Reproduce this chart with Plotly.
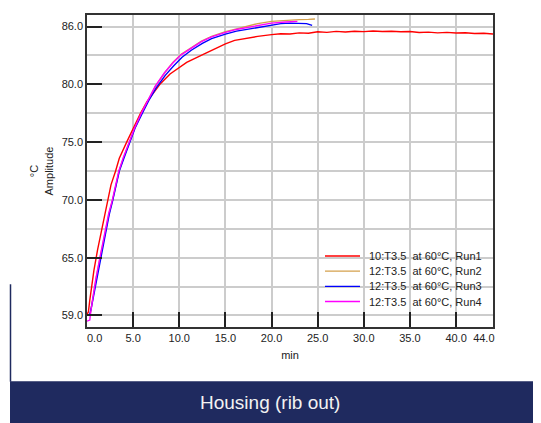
import plotly.graph_objects as go

# ---------------- data ----------------
series_names = [
    "10:T3.5\u00a0\u00a0at 60\u00b0C, Run1",
    "12:T3.5\u00a0\u00a0at 60\u00b0C, Run2",
    "12:T3.5\u00a0\u00a0at 60\u00b0C, Run3",
    "12:T3.5\u00a0\u00a0at 60\u00b0C, Run4",
]
series_colors = ["#ff0000", "#d4a04c", "#0000ff", "#ff00ff"]

run1_t = [0.0, 0.15, 0.3, 0.5, 0.75, 1.15, 1.6, 2.2, 2.6, 3.1, 3.4, 3.5, 4.3, 5.0, 5.8,
          6.5, 7.2, 7.9, 9.0, 10.8, 12.6, 14.4, 15.0, 16.0, 17.3, 18.5, 20, 21, 22, 23, 24,
          25, 26, 27, 28, 29, 30, 31, 32, 33, 34, 35, 36, 37, 38, 39, 40, 41, 42, 43, 44]
run1_v = [60.1, 60.3, 61.3, 62.7, 63.9, 65.7, 67.5, 70.0, 71.3, 72.5, 73.2, 73.6, 75.0, 76.2, 77.5,
          78.5, 79.3, 80.0, 80.9, 81.9, 82.6, 83.3, 83.5, 83.8, 84.0, 84.15, 84.30, 84.38, 84.36, 84.45, 84.42,
          84.55, 84.50, 84.58, 84.53, 84.60, 84.56, 84.62, 84.57, 84.60, 84.55, 84.57, 84.48, 84.52, 84.45, 84.50,
          84.44, 84.47, 84.40, 84.42, 84.35]

run2_t = [0.0, 0.35, 0.45, 0.7, 1.0, 1.42, 1.68, 2.03, 2.38, 2.78, 3.48, 3.98, 4.58, 5.18, 5.98,
          6.68, 7.42, 8.42, 9.3, 10.2, 11.3, 12.4, 13.5, 15.0, 16.2, 17.3, 18.5, 20.0, 21.0, 22.0,
          23.0, 24.0, 24.7]
run2_v = [60.0, 60.1, 60.6, 61.9, 63.3, 65.0, 66.0, 67.5, 68.8, 70.0, 72.5, 73.7, 75.0, 76.2, 77.6,
          78.7, 79.85, 81.0, 81.9, 82.6, 83.2, 83.75, 84.15, 84.55, 84.8, 85.0, 85.25, 85.45, 85.5, 85.6,
          85.6, 85.62, 85.65]

run3_t = [0.0, 0.3, 0.45, 0.72, 1.0, 1.45, 1.7, 2.06, 2.4, 2.8, 3.5, 4.0, 4.6, 5.2, 6.0,
          6.7, 7.5, 8.5, 9.4, 10.3, 11.3, 12.5, 13.5, 15.0, 16.2, 17.3, 19.0, 20.0, 21.0, 22.0,
          23.0, 23.8, 24.4]
run3_v = [60.0, 60.1, 60.6, 61.7, 63.0, 65.0, 65.9, 67.5, 68.7, 70.0, 72.5, 73.6, 75.0, 76.2, 77.5,
          78.6, 79.7, 80.8, 81.6, 82.35, 82.95, 83.55, 83.95, 84.35, 84.6, 84.75, 85.0, 85.15, 85.25, 85.3,
          85.3, 85.25, 85.1]

run4_t = [0.0, 0.3, 0.4, 0.65, 0.95, 1.4, 1.65, 2.0, 2.35, 2.75, 3.45, 3.95, 4.55, 5.15, 5.95,
          6.65, 7.4, 8.4, 9.3, 10.2, 11.3, 12.4, 13.5, 15.0, 16.2, 17.3, 20.0, 21.5, 22.8]
run4_v = [59.5, 59.6, 60.3, 61.7, 63.1, 65.0, 66.0, 67.5, 68.8, 70.0, 72.5, 73.7, 75.0, 76.2, 77.6,
          78.7, 79.85, 81.0, 81.85, 82.55, 83.15, 83.7, 84.1, 84.5, 84.75, 84.9, 85.3, 85.4, 85.45]

series_t = [run1_t, run2_t, run3_t, run4_t]
series_v = [run1_v, run2_v, run3_v, run4_v]

x_tickvals = [0, 5, 10, 15, 20, 25, 30, 35, 40, 44]
x_ticktext = ["\u00a0" * 5 + "0.0", "5.0", "10.0", "15.0", "20.0", "25.0", "30.0", "35.0",
              "40.0", "44.0" + "\u00a0" * 6]
y_tickvals = [60, 65, 70, 75, 80, 85]
y_ticktext = ["59.0", "65.0", "70.0", "75.0", "80.0", "86.0"]
y_minorvals = [62.5, 67.5, 72.5, 77.5, 82.5]

banner_text = "Housing (rib out)"

# ---------------- layout helpers (window pixel -> paper) ----------------
OFF = 8                      # default page body margin
WIN_W, WIN_H = 541, 423
W, H = WIN_W - OFF, WIN_H - OFF
PL, PR, PT, PB = 87, 493, 13, 327   # plot box in window pixels


def pxx(x):
    return (x - PL) / (PR - PL)


def pxy(y):
    return (PB - y) / (PB - PT)


NAVY = "#1f2a5f"
FONT = "Liberation Sans, Arial, sans-serif"

fig = go.Figure()
for name, t, v, c in zip(series_names, series_t, series_v, series_colors):
    fig.add_trace(go.Scatter(x=t, y=v, mode="lines", name=name,
                             line=dict(color=c, width=1.4), showlegend=False))

shapes = []
annotations = []

# compact legend (white box + line samples + text)
shapes.append(dict(type="rect", xref="paper", yref="paper", layer="between",
                   x0=pxx(320), x1=pxx(491), y0=pxy(311), y1=pxy(245),
                   fillcolor="white", line=dict(width=0)))
for i, (name, c) in enumerate(zip(series_names, series_colors)):
    yy = 255.5 + i * 15.3
    shapes.append(dict(type="line", xref="paper", yref="paper", layer="above",
                       x0=pxx(325), x1=pxx(360), y0=pxy(yy), y1=pxy(yy),
                       line=dict(color=c, width=1.4)))
    annotations.append(dict(xref="paper", yref="paper", x=pxx(367), y=pxy(yy),
                            xanchor="left", yanchor="middle", showarrow=False,
                            text=name, font=dict(size=11, color="#222222", family=FONT)))

# bottom banner and left rule
shapes.append(dict(type="rect", xref="paper", yref="paper", layer="above",
                   x0=pxx(10), x1=pxx(WIN_W + 5), y0=pxy(WIN_H + 5), y1=pxy(381.5),
                   fillcolor=NAVY, line=dict(width=0)))
shapes.append(dict(type="line", xref="paper", yref="paper", layer="above",
                   x0=pxx(10.5), x1=pxx(10.5), y0=pxy(284), y1=pxy(382),
                   line=dict(color=NAVY, width=1.5)))
annotations.append(dict(xref="paper", yref="paper", x=pxx(270), y=pxy(403),
                        xanchor="center", yanchor="middle", showarrow=False,
                        text=banner_text, font=dict(size=19, color="#f2f2f2", family=FONT)))

fig.update_layout(
    width=W, height=H,
    margin=dict(l=PL - OFF, r=WIN_W - PR, t=PT - OFF, b=WIN_H - PB, pad=0),
    paper_bgcolor="white", plot_bgcolor="white",
    font=dict(family=FONT, size=11, color="#222222"),
    shapes=shapes, annotations=annotations,
    showlegend=False,
    xaxis=dict(range=[0, 44], tickmode="array", tickvals=x_tickvals, ticktext=x_ticktext,
               ticks="inside", ticklen=15, tickwidth=1.5, tickcolor="#222222",
               showgrid=True, gridcolor="#cccccc", gridwidth=1.5, zeroline=False,
               showline=True, mirror=True, linecolor="#333333", linewidth=1.5,
               tickfont=dict(size=11, color="#222222"),
               title=dict(text="min", standoff=8, font=dict(size=11, color="#222222"))),
    yaxis=dict(range=[59, 86], tickmode="array", tickvals=y_tickvals, ticktext=y_ticktext,
               ticks="inside", ticklen=15, tickwidth=1.5, tickcolor="#222222",
               showgrid=True, gridcolor="#cccccc", gridwidth=1.5, zeroline=False,
               showline=True, mirror=True, linecolor="#333333", linewidth=1.5,
               tickfont=dict(size=11, color="#222222"),
               minor=dict(tickmode="array", tickvals=y_minorvals, showgrid=True,
                          gridcolor="#cccccc", gridwidth=1.5, ticks=""),
               title=dict(text="\u00b0C<br>Amplitude", standoff=6,
                          font=dict(size=11, color="#222222"))),
)

fig.write_html("out.html")
